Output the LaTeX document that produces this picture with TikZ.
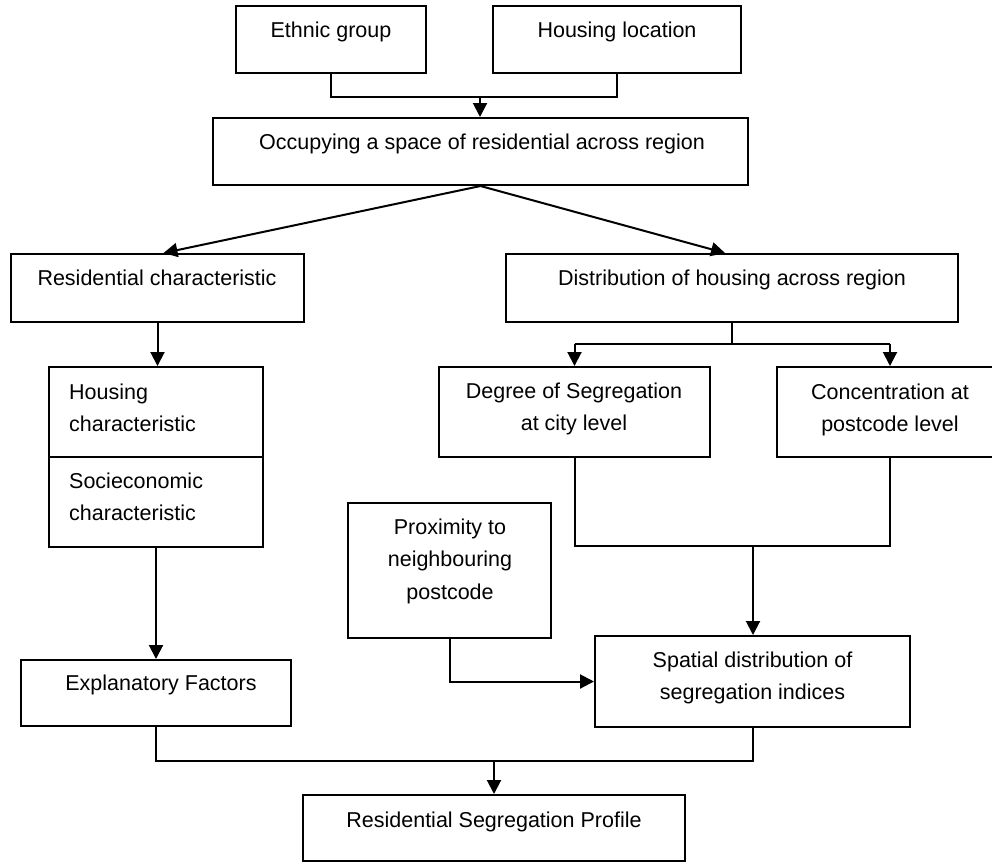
\documentclass[tikz,border=0pt]{standalone}
\usepackage{fontspec}
\setmainfont{Liberation Sans}
\usetikzlibrary{arrows.meta,calc}
\begin{document}
\begin{tikzpicture}[x=1pt,y=-1pt,
  box/.style={draw=black,line width=2pt,rectangle,inner sep=0pt},
  txt/.style={inner sep=0pt,anchor=north,align=center,text=black,font=\fontsize{21.5}{32.5}\selectfont},
  ltxt/.style={txt,anchor=north west,align=left},
  ln/.style={draw=black,line width=2pt},
  arr/.style={ln,-{Triangle[length=14pt,width=14pt]}}]
\useasboundingbox (0,0) rectangle (992,863);
\clip (0,0) rectangle (992,863);
% boxes
\node[box,minimum width=190pt,minimum height=67pt] (eth) at (331,39.5) {};
\node[box,minimum width=248pt,minimum height=67pt] (hou) at (617,39.5) {};
\node[box,minimum width=535pt,minimum height=67pt] (occ) at (480.5,151.5) {};
\node[box,minimum width=293pt,minimum height=68pt] (res) at (157.5,288) {};
\node[box,minimum width=452pt,minimum height=68pt] (dist) at (732,288) {};
\node[box,minimum width=214pt,minimum height=90pt] (hc) at (156,412) {};
\node[box,minimum width=214pt,minimum height=90pt] (sc) at (156,502) {};
\node[box,minimum width=271pt,minimum height=90pt] (deg) at (574.5,412) {};
\node[box,minimum width=226pt,minimum height=90pt] (con) at (890,412) {};
\node[box,minimum width=203pt,minimum height=135pt] (prox) at (449.5,570.5) {};
\node[box,minimum width=315pt,minimum height=91pt] (spat) at (752.5,681.5) {};
\node[box,minimum width=270pt,minimum height=66pt] (expl) at (156,693) {};
\node[box,minimum width=382pt,minimum height=66pt] (rsp) at (494,828) {};
% texts
\node[txt] (teth) at (331,21.3) {Ethnic group};
\node[txt] (thou) at (617,21.3) {Housing location};
\node[txt] (tocc) at (482,133.3) {Occupying a space of residential across region};
\node[txt] (tres) at (157,269.3) {Residential characteristic};
\node[txt] (tdist) at (732,269.3) {Distribution of housing across region};
\node[ltxt] (thc) at (69,383.3) {Housing\\characteristic};
\node[ltxt] (tsc) at (69,472.3) {Socieconomic\\characteristic};
\node[txt] (tdeg) at (574,382.3) {Degree of Segregation\\at city level};
\node[txt] (tcon) at (890,383.3) {Concentration at\\postcode level};
\node[txt] (tprox) at (450,518.3) {Proximity to\\neighbouring\\postcode};
\node[txt] (tspat) at (752.5,651.3) {Spatial distribution of\\segregation indices};
\node[txt] (texpl) at (161,674.3) {Explanatory Factors};
\node[txt] (trsp) at (494,811.3) {Residential Segregation Profile};
% junctions
\coordinate (j1) at (480,97);
\coordinate (j2) at (733,344);
\coordinate (j3) at (753,546);
\coordinate (j4) at (494,761);
% connectors
\draw[ln] (eth.south) |- (j1) -| (hou.south);
\draw[arr] (j1) -- (occ.north -| j1);
\draw[arr] (occ.south) -- ($(res.north)+(6,0)$);
\draw[arr] (occ.south) -- ($(dist.north)+(-7,0)$);
\draw[arr] (res.south) -- (res.south |- hc.north);
\draw[ln] (dist.south) -- (dist.south |- j2);
\draw[ln] (deg.north |- j2) -- (con.north |- j2);
\draw[arr] (deg.north |- j2) -- (deg.north);
\draw[arr] (con.north |- j2) -- (con.north);
\draw[ln] (deg.south) |- (j3) -| (con.south);
\draw[arr] (j3) -- (j3 |- spat.north);
\draw[arr] (prox.south) |- (spat.west);
\draw[arr] (sc.south) -- (sc.south |- expl.north);
\draw[ln] (expl.south) |- (j4) -| (spat.south);
\draw[arr] (j4) -- (j4 |- rsp.north);
\end{tikzpicture}
\end{document}
